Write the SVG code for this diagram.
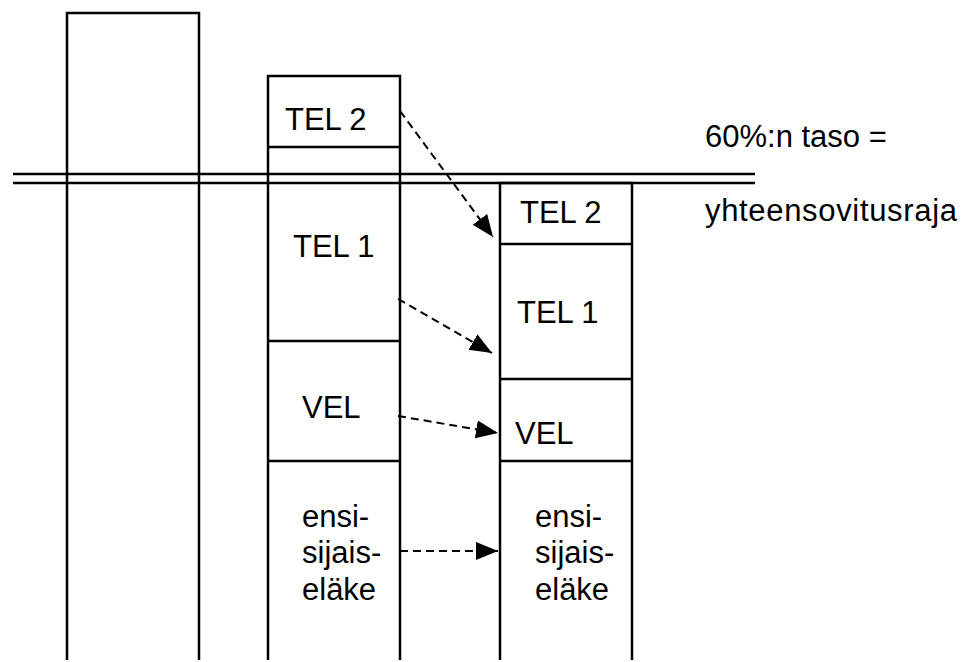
<svg xmlns="http://www.w3.org/2000/svg" width="962" height="662" viewBox="0 0 962 662">
<style>
.box{fill:none;stroke:#000;stroke-width:2.5}
.ln{stroke:#000;stroke-width:2.5;fill:none}
.t{font-family:"Liberation Sans",Arial,sans-serif;font-size:31px;fill:#000}
.c{stroke:#000;stroke-width:2;stroke-dasharray:8 5;fill:none}
</style>
<defs>
<marker id="ah" markerUnits="userSpaceOnUse" markerWidth="24" markerHeight="20" refX="22" refY="9" orient="auto">
<path d="M0,0 L22,9 L0,18 Z" fill="#000"/>
</marker>
</defs>
<rect width="962" height="662" fill="#fff"/>
<g id="level-lines">
<line class="ln" x1="13" y1="174" x2="755" y2="174"/>
<line class="ln" x1="13" y1="183" x2="755" y2="183"/>
</g>
<g id="col-left">
<path class="ln" d="M67,660 V13 H199 V660"/>
</g>
<g id="col-mid">
<path class="ln" d="M268,660 V76 H400 V660"/>
<line class="ln" x1="268" y1="147" x2="400" y2="147"/>
<line class="ln" x1="268" y1="341" x2="400" y2="341"/>
<line class="ln" x1="268" y1="461" x2="400" y2="461"/>
</g>
<g id="mid-tel2"><text class="t" x="285" y="130">TEL 2</text></g>
<g id="mid-tel1"><text class="t" x="293" y="257">TEL 1</text></g>
<g id="mid-vel"><text class="t" x="302" y="418">VEL</text></g>
<g id="mid-ensi"><text class="t" x="302" y="527">ensi-</text><text class="t" x="302" y="563">sijais-</text><text class="t" x="302" y="600">eläke</text></g>
<g id="col-right">
<path class="ln" d="M500,660 V183 H632 V660"/>
<line class="ln" x1="500" y1="244" x2="632" y2="244"/>
<line class="ln" x1="500" y1="379" x2="632" y2="379"/>
<line class="ln" x1="500" y1="461" x2="632" y2="461"/>
</g>
<g id="right-tel2"><text class="t" x="520" y="223">TEL 2</text></g>
<g id="right-tel1"><text class="t" x="517" y="323">TEL 1</text></g>
<g id="right-vel"><text class="t" x="515" y="444">VEL</text></g>
<g id="right-ensi"><text class="t" x="535" y="527">ensi-</text><text class="t" x="535" y="563">sijais-</text><text class="t" x="535" y="600">eläke</text></g>
<g id="label"><text class="t" x="705" y="147">60%:n taso =</text><text class="t" x="705" y="221" textLength="252">yhteensovitusraja</text></g>
<g id="connectors">
<line class="c" x1="400" y1="111" x2="493" y2="237" marker-end="url(#ah)"/>
<line class="c" x1="398" y1="299" x2="492" y2="353" marker-end="url(#ah)"/>
<line class="c" x1="398" y1="416" x2="498" y2="433" marker-end="url(#ah)"/>
<line class="c" x1="400" y1="551" x2="498" y2="551" marker-end="url(#ah)"/>
</g>
</svg>
